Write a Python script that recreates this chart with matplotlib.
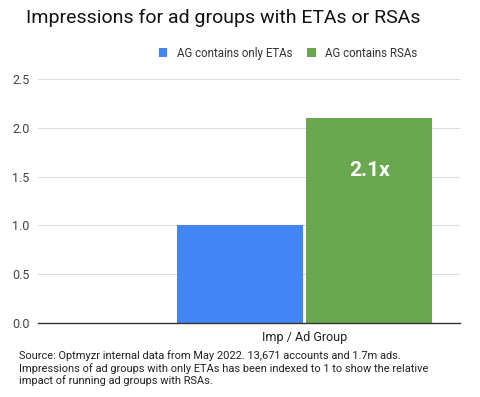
import matplotlib.pyplot as plt

plt.rcParams['font.family'] = ['Roboto', 'DejaVu Sans']

# data
category = 'Imp / Ad Group'
series = ['AG contains only ETAs', 'AG contains RSAs']
values = [1.0, 2.1]
colors = ['#4285F4', '#6AA84F']
yticks = [0.0, 0.5, 1.0, 1.5, 2.0, 2.5]

fig = plt.figure(figsize=(4.8, 3.97), dpi=100)
ax = fig.add_axes([0.079, 0.1864, 0.879, 0.6146])

# two bars side by side around the single category at x=0
width = 1.0
offsets = [-0.5 * width - 0.012, 0.5 * width + 0.012]
for off, v, c, name in zip(offsets, values, colors, series):
    ax.bar(off, v, width=width, color=c, label=name, zorder=3)

# label on the RSA bar
ax.text(offsets[1], 1.56, '%.1fx' % (values[1] / values[0]), color='white',
        fontsize=15, fontweight='bold', ha='center', va='center', zorder=4)

ax.set_xlim(-2.12, 1.23)
ax.set_ylim(0, 2.5)
ax.set_yticks(yticks)
ax.set_yticklabels(['%.1f' % t for t in yticks], fontsize=9, color='#444444')
ax.set_xticks([0])
ax.set_xticklabels([category], fontsize=9, color='#222222')
ax.tick_params(length=0, pad=6)
ax.yaxis.grid(True, color='#dddddd', linewidth=0.8, zorder=0)
for s in ['top', 'right', 'left']:
    ax.spines[s].set_visible(False)
ax.spines['bottom'].set_color('#333333')
ax.spines['bottom'].set_linewidth(1)
ax.spines['bottom'].set_zorder(5)

fig.text(0.054, 0.955, 'Impressions for ad groups with ETAs or RSAs',
         fontsize=14, color='#111111', va='center', ha='left')

fig.legend(loc='center', bbox_to_anchor=(0.6, 0.866), ncol=2, frameon=False,
           fontsize=8.3, handlelength=0.75, handleheight=0.75, handletextpad=0.8,
           columnspacing=1.3, labelcolor='#333333')

fig.text(0.04, 0.118,
         'Source: Optmyzr internal data from May 2022. 13,671 accounts and 1.7m ads.\n'
         'Impressions of ad groups with only ETAs has been indexed to 1 to show the relative\n'
         'impact of running ad groups with RSAs.',
         fontsize=7.9, color='#222222', va='top', ha='left', linespacing=1.2)

fig.savefig('out.png', dpi=100)
